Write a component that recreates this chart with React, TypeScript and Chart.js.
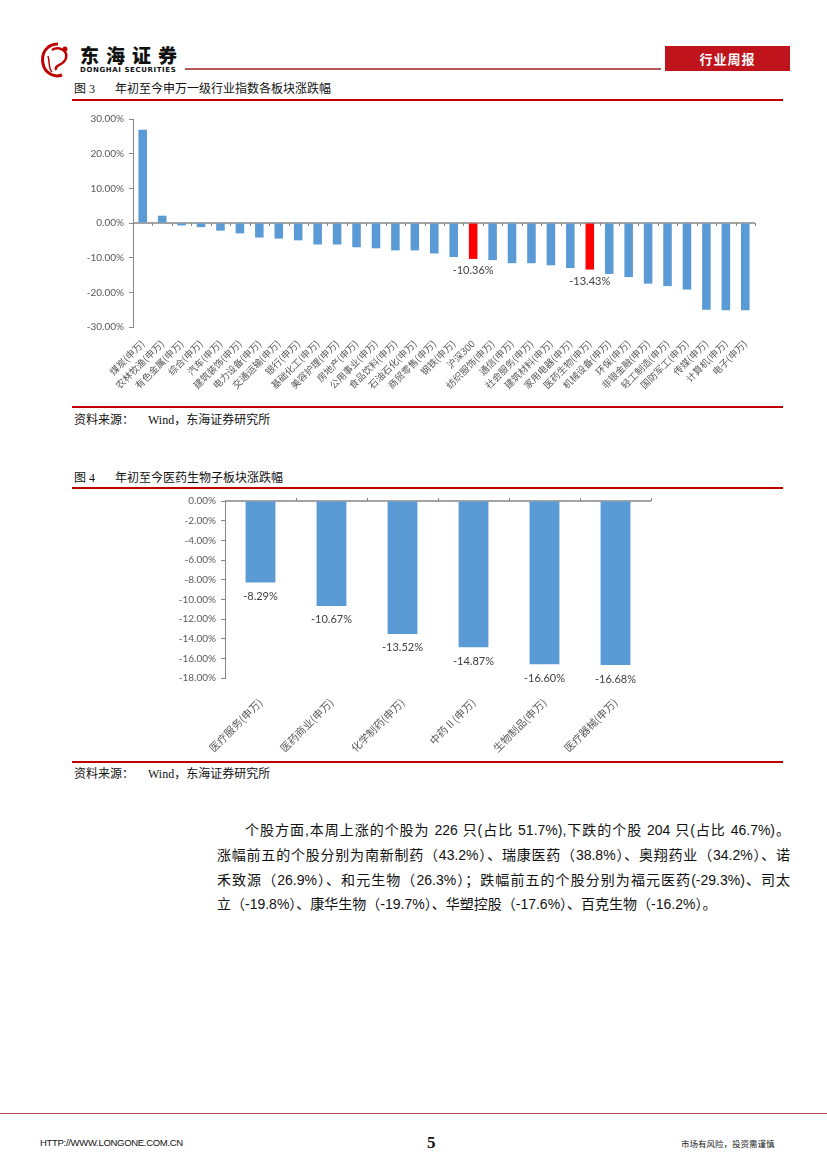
import React, { useEffect, useRef } from "react";
import { Chart, registerables } from "chart.js";

Chart.register(...registerables);

// ---------- Data: Figure 3 ----------
const industryCategories = [
  "煤炭(申万)", "农林牧渔(申万)", "有色金属(申万)", "综合(申万)", "汽车(申万)",
  "建筑装饰(申万)", "电力设备(申万)", "交通运输(申万)", "银行(申万)", "基础化工(申万)",
  "美容护理(申万)", "房地产(申万)", "公用事业(申万)", "食品饮料(申万)", "石油石化(申万)",
  "商贸零售(申万)", "钢铁(申万)", "沪深300", "纺织服饰(申万)", "通信(申万)",
  "社会服务(申万)", "建筑材料(申万)", "家用电器(申万)", "医药生物(申万)", "机械设备(申万)",
  "环保(申万)", "非银金融(申万)", "轻工制造(申万)", "国防军工(申万)", "传媒(申万)",
  "计算机(申万)", "电子(申万)",
];
const industryValues = [
  26.9, 2.1, -0.7, -1.2, -2.2,
  -3.0, -4.2, -4.5, -5.0, -6.2,
  -6.2, -7.0, -7.3, -7.9, -7.9,
  -8.8, -9.8, -10.36, -10.7, -11.6,
  -11.6, -12.2, -13.0, -13.43, -14.7,
  -15.6, -17.5, -18.2, -19.2, -25.0,
  -25.2, -25.2,
];
const highlightCategories = ["沪深300", "医药生物(申万)"];
const industryAxisMin = -30;
const industryAxisMax = 30;
const industryAxisStep = 10;

// ---------- Data: Figure 4 ----------
const medCategories = [
  "医疗服务(申万)", "医药商业(申万)", "化学制药(申万)",
  "中药Ⅱ(申万)", "生物制品(申万)", "医疗器械(申万)",
];
const medValues = [-8.29, -10.67, -13.52, -14.87, -16.60, -16.68];
const medAxisMin = -18;
const medAxisMax = 0;
const medAxisStep = 2;

const BLUE = "#5B9BD5";
const RED = "#FF0000";
const AXIS_GREY = "#868686";
const TICK_FONT = "Lato, 'Liberation Sans', sans-serif";
const CJK = "'Noto Sans CJK SC', sans-serif";

function makeZeroLinePlugin(tickDown: number) {
  return {
    id: "zeroLine",
    beforeDatasetsDraw(chart: any) {
      const { ctx, scales } = chart;
      const x = scales.x;
      const y = scales.y;
      const y0 = y.getPixelForValue(0);
      const n = chart.data.labels.length;
      const w = (x.right - x.left) / n;
      ctx.save();
      ctx.strokeStyle = AXIS_GREY;
      ctx.lineWidth = 1.5;
      ctx.beginPath();
      ctx.moveTo(x.left, y0);
      ctx.lineTo(x.right, y0);
      ctx.stroke();
      ctx.lineWidth = 1;
      ctx.beginPath();
      for (let i = 1; i <= n; i++) {
        const px = Math.round(x.left + i * w) + 0.5;
        ctx.moveTo(px, y0);
        ctx.lineTo(px, y0 + tickDown);
      }
      ctx.stroke();
      ctx.restore();
    },
  };
}

function makeValueLabelPlugin(show: boolean[], offset: number, fontPx: number) {
  return {
    id: "valueLabels",
    afterDatasetsDraw(chart: any) {
      const { ctx } = chart;
      const meta = chart.getDatasetMeta(0);
      const data = chart.data.datasets[0].data as number[];
      ctx.save();
      ctx.font = `${fontPx}px ${TICK_FONT}`;
      ctx.fillStyle = "#404040";
      ctx.textAlign = "center";
      ctx.textBaseline = "middle";
      meta.data.forEach((bar: any, i: number) => {
        if (!show[i]) return;
        ctx.fillText(data[i].toFixed(2) + "%", bar.x, bar.y + offset);
      });
      ctx.restore();
    },
  };
}

type ChartBoxProps = {
  left: number;
  top: number;
  width: number;
  height: number;
  build: () => any;
};

function ChartBox({ left, top, width, height, build }: ChartBoxProps) {
  const ref = useRef<HTMLCanvasElement | null>(null);
  useEffect(() => {
    if (!ref.current) return;
    const chart = new Chart(ref.current, build());
    return () => chart.destroy();
  }, []);
  return (
    <div style={{ position: "absolute", left, top, width, height }}>
      <canvas ref={ref} />
    </div>
  );
}

function buildIndustryChart() {
  const colors = industryCategories.map((c) => (highlightCategories.includes(c) ? RED : BLUE));
  const show = industryCategories.map((c) => highlightCategories.includes(c));
  return {
    type: "bar",
    data: {
      labels: industryCategories,
      datasets: [
        {
          data: industryValues,
          backgroundColor: colors,
          borderWidth: 0,
          categoryPercentage: 1,
          barPercentage: 0.44,
        },
      ],
    },
    options: {
      animation: false,
      responsive: true,
      maintainAspectRatio: false,
      layout: { padding: { top: 10, right: 28, left: 0, bottom: 0 } },
      plugins: { legend: { display: false }, tooltip: { enabled: false } },
      scales: {
        x: {
          grid: { display: false },
          border: { display: false },
          ticks: {
            autoSkip: false,
            minRotation: 45,
            maxRotation: 45,
            padding: 3,
            color: "#595959",
            font: { family: CJK, size: 9.5 },
          },
          afterFit(scale: any) {
            scale.height = 78;
          },
        },
        y: {
          min: industryAxisMin,
          max: industryAxisMax,
          ticks: {
            stepSize: industryAxisStep,
            color: "#595959",
            padding: 5,
            font: { family: TICK_FONT, size: 10 },
            callback: (v: any) => Number(v).toFixed(2) + "%",
          },
          grid: { drawOnChartArea: false, drawTicks: true, tickLength: 4, color: AXIS_GREY },
          border: { display: true, color: AXIS_GREY, width: 1 },
          afterFit(scale: any) {
            scale.width = 61;
          },
        },
      },
    },
    plugins: [makeZeroLinePlugin(3), makeValueLabelPlugin(show, 12, 11)],
  };
}

function buildMedChart() {
  const show = medCategories.map(() => true);
  return {
    type: "bar",
    data: {
      labels: medCategories,
      datasets: [
        {
          data: medValues,
          backgroundColor: BLUE,
          borderWidth: 0,
          categoryPercentage: 1,
          barPercentage: 0.42,
        },
      ],
    },
    options: {
      animation: false,
      responsive: true,
      maintainAspectRatio: false,
      layout: { padding: { top: 8, right: 49, left: 0, bottom: 0 } },
      plugins: { legend: { display: false }, tooltip: { enabled: false } },
      scales: {
        x: {
          grid: { display: false },
          border: { display: false },
          ticks: {
            autoSkip: false,
            minRotation: 45,
            maxRotation: 45,
            padding: 10,
            color: "#595959",
            font: { family: CJK, size: 10.5 },
          },
          afterFit(scale: any) {
            scale.height = 82;
          },
        },
        y: {
          min: medAxisMin,
          max: medAxisMax,
          ticks: {
            stepSize: medAxisStep,
            color: "#595959",
            padding: 5,
            font: { family: TICK_FONT, size: 10 },
            callback: (v: any) => Number(v).toFixed(2) + "%",
          },
          grid: { drawOnChartArea: false, drawTicks: true, tickLength: 4, color: AXIS_GREY },
          border: { display: true, color: AXIS_GREY, width: 1 },
          afterFit(scale: any) {
            scale.width = 75;
          },
        },
      },
    },
    plugins: [makeZeroLinePlugin(-3), makeValueLabelPlugin(show, 14, 11)],
  };
}

const abs = (left: number, top: number, extra: React.CSSProperties = {}): React.CSSProperties => ({
  position: "absolute",
  left,
  top,
  ...extra,
});

const redRule = (top: number): React.CSSProperties =>
  abs(72, top, { width: 711, height: 2, background: "#C00000" });

const captionStyle: React.CSSProperties = {
  fontFamily: "'Liberation Serif', 'Noto Sans CJK SC', serif",
  fontSize: 12,
  color: "#111",
  whiteSpace: "nowrap",
  lineHeight: "14px",
};

const paraLine: React.CSSProperties = {
  fontFamily: "'Liberation Sans', 'Noto Sans CJK SC', sans-serif",
  fontSize: 14,
  color: "#111",
  whiteSpace: "nowrap",
  lineHeight: "18px",
};

export default function App() {
  return (
    <div
      style={{
        position: "absolute",
        left: 0,
        top: 0,
        width: 827,
        height: 1170,
        background: "#fff",
        overflow: "hidden",
        fontFamily: CJK,
      }}
    >
      {/* Header logo */}
      <svg style={abs(38, 40)} width={40} height={40} viewBox="0 0 40 40">
        <path d="M20 4 C8 4 3 14 5 24 C7 33 16 38 24 35" fill="none" stroke="#C00000" strokeWidth={3} />
        <path d="M14 10 C20 6 30 10 28 18 C26 26 16 24 18 30" fill="none" stroke="#C00000" strokeWidth={2.5} />
        <path d="M10 16 C12 22 10 28 14 32" fill="none" stroke="#C00000" strokeWidth={1.5} />
        <circle cx={27} cy={9} r={2.5} fill="#C00000" />
      </svg>
      <div
        style={abs(80, 45, {
          fontSize: 19,
          fontWeight: 900,
          letterSpacing: 7,
          color: "#111",
          lineHeight: "20px",
          whiteSpace: "nowrap",
        })}
      >
        东海证券
      </div>
      <div
        style={abs(80, 66, {
          fontFamily: "'DejaVu Sans', sans-serif",
          fontSize: 7,
          fontWeight: 700,
          letterSpacing: 0.6,
          color: "#111",
          lineHeight: "8px",
          whiteSpace: "nowrap",
        })}
      >
        DONGHAI SECURITIES
      </div>
      <div style={abs(185, 68, { width: 476, height: 1.5, background: "#B0585E" })} />
      <div
        style={abs(665, 46, {
          width: 125,
          height: 25,
          background: "#C0141C",
          color: "#fff",
          fontSize: 13,
          fontWeight: 700,
          lineHeight: "25px",
          textAlign: "center",
          letterSpacing: 1,
        })}
      >
        行业周报
      </div>

      {/* Figure 3 */}
      <div style={abs(74, 82, captionStyle)}>
        图 3<span style={{ marginLeft: 20 }}>年初至今申万一级行业指数各板块涨跌幅</span>
      </div>
      <div style={redRule(99)} />
      <ChartBox left={72} top={108} width={711} height={297} build={buildIndustryChart} />
      <div style={redRule(406)} />
      <div style={abs(74, 413, captionStyle)}>
        资料来源：<span style={{ marginLeft: 14 }}>Wind，东海证券研究所</span>
      </div>

      {/* Figure 4 */}
      <div style={abs(74, 471, captionStyle)}>
        图 4<span style={{ marginLeft: 20 }}>年初至今医药生物子板块涨跌幅</span>
      </div>
      <div style={redRule(487)} />
      <ChartBox left={150} top={490} width={550} height={270} build={buildMedChart} />
      <div style={redRule(761)} />
      <div style={abs(74, 767, captionStyle)}>
        资料来源：<span style={{ marginLeft: 14 }}>Wind，东海证券研究所</span>
      </div>

      {/* Paragraph */}
      <div style={abs(245, 821, { ...paraLine, width: 545, textAlign: "justify", textAlignLast: "justify" })}>
        个股方面,本周上涨的个股为 226 只(占比 51.7%),下跌的个股 204 只(占比 46.7%)。
      </div>
      <div style={abs(217, 846, { ...paraLine, width: 573, textAlign: "justify", textAlignLast: "justify" })}>
        涨幅前五的个股分别为南新制药（43.2%）、瑞康医药（38.8%）、奥翔药业（34.2%）、诺
      </div>
      <div style={abs(217, 871, { ...paraLine, width: 573, textAlign: "justify", textAlignLast: "justify" })}>
        禾致源（26.9%）、和元生物（26.3%）；跌幅前五的个股分别为福元医药(-29.3%)、司太
      </div>
      <div style={abs(217, 895, { ...paraLine })}>
        立（-19.8%）、康华生物（-19.7%）、华塑控股（-17.6%）、百克生物（-16.2%）。
      </div>

      {/* Footer */}
      <div style={abs(0, 1113, { width: 827, height: 1, background: "#C04848" })} />
      <div
        style={abs(40, 1137, {
          fontFamily: "'Liberation Sans', sans-serif",
          fontSize: 9.5,
          letterSpacing: -0.3,
          color: "#111",
          lineHeight: "12px",
          whiteSpace: "nowrap",
        })}
      >
        HTTP://WWW.LONGONE.COM.CN
      </div>
      <div
        style={abs(427, 1134, {
          fontFamily: "'Liberation Serif', serif",
          fontSize: 17,
          fontWeight: 700,
          color: "#111",
          lineHeight: "18px",
        })}
      >
        5
      </div>
      <div
        style={abs(681, 1138, {
          fontSize: 8.5,
          color: "#222",
          lineHeight: "11px",
          whiteSpace: "nowrap",
        })}
      >
        市场有风险，投资需谨慎
      </div>
    </div>
  );
}
